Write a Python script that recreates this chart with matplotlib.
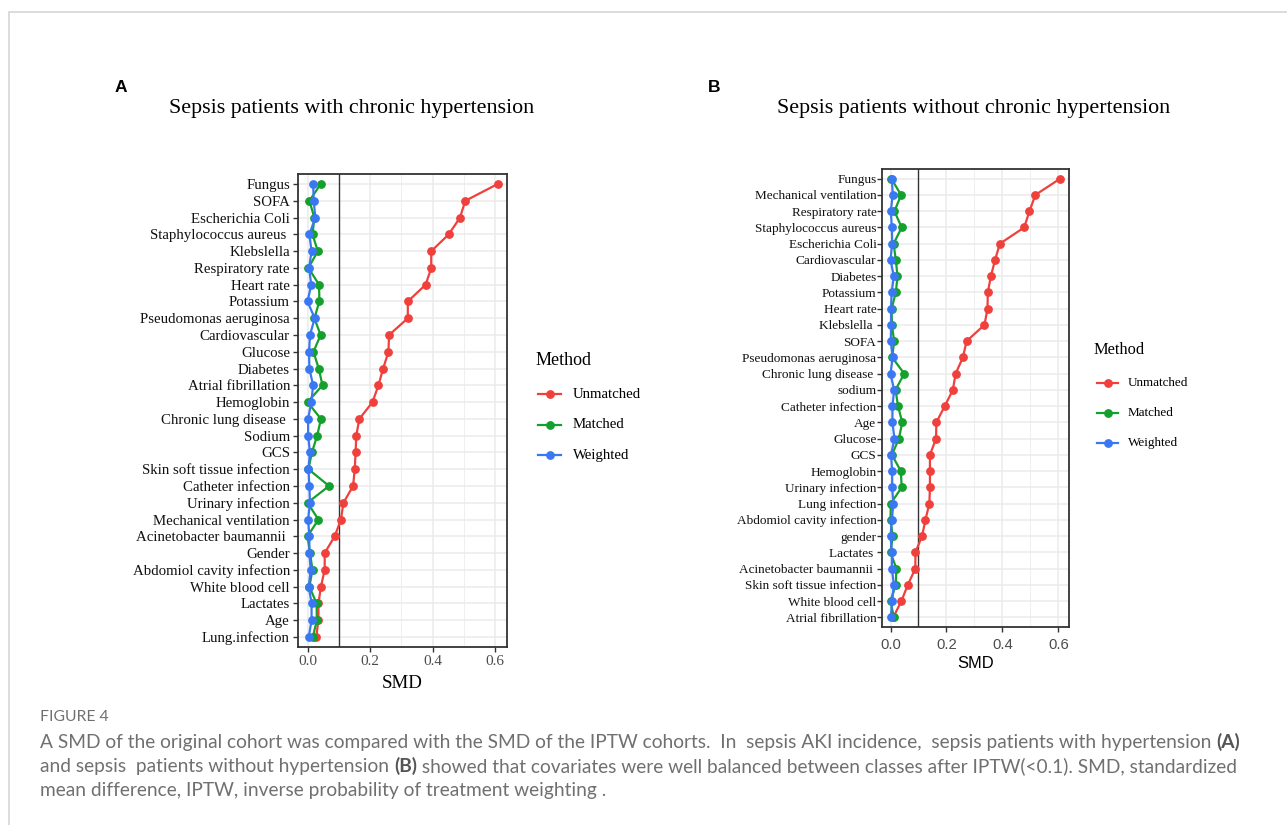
import matplotlib
matplotlib.use("Agg")
import matplotlib.pyplot as plt
from matplotlib.lines import Line2D
from matplotlib.patches import Rectangle
import numpy as np

W, H, DPI = 1287, 825, 100

# ---------------- data: panel A ----------------
covariates_a = ["Fungus", "SOFA", "Escherichia Coli", "Staphylococcus aureus ", "Klebslella",
                "Respiratory rate", "Heart rate", "Potassium", "Pseudomonas aeruginosa",
                "Cardiovascular", "Glucose", "Diabetes", "Atrial fibrillation", "Hemoglobin",
                "Chronic lung disease ", "Sodium", "GCS", "Skin soft tissue infection",
                "Catheter infection", "Urinary infection", "Mechanical ventilation",
                "Acinetobacter baumannii ", "Gender", "Abdomiol cavity infection",
                "White blood cell", "Lactates", "Age", "Lung.infection"]
unmatched_a = [0.608, 0.505, 0.488, 0.452, 0.396, 0.396, 0.378, 0.321, 0.321, 0.261, 0.259,
               0.242, 0.227, 0.208, 0.166, 0.156, 0.154, 0.151, 0.146, 0.115, 0.107, 0.087,
               0.055, 0.055, 0.043, 0.035, 0.035, 0.028]
matched_a = [0.042, 0.006, 0.022, 0.016, 0.033, 0.003, 0.037, 0.038, 0.022, 0.042, 0.019,
             0.036, 0.048, 0.000, 0.043, 0.031, 0.014, 0.003, 0.069, 0.000, 0.035, 0.000,
             0.008, 0.016, 0.006, 0.029, 0.030, 0.017]
weighted_a = [0.018, 0.020, 0.025, 0.006, 0.013, 0.005, 0.012, 0.000, 0.023, 0.008, 0.005,
              0.006, 0.018, 0.012, 0.002, 0.002, 0.008, 0.003, 0.006, 0.008, 0.002, 0.006,
              0.006, 0.010, 0.004, 0.013, 0.013, 0.004]

# ---------------- data: panel B ----------------
covariates_b = ["Fungus", "Mechanical ventilation", "Respiratory rate", "Staphylococcus aureus",
                "Escherichia Coli", "Cardiovascular", "Diabetes", "Potassium", "Heart rate",
                "Klebslella ", "SOFA", "Pseudomonas aeruginosa", "Chronic lung disease ",
                "sodium", "Catheter infection", "Age", "Glucose", "GCS", "Hemoglobin",
                "Urinary infection", "Lung infection", "Abdomiol cavity infection", "gender",
                "Lactates ", "Acinetobacter baumannii ", "Skin soft tissue infection",
                "White blood cell", "Atrial fibrillation"]
unmatched_b = [0.606, 0.518, 0.497, 0.478, 0.391, 0.374, 0.359, 0.348, 0.347, 0.336, 0.272,
               0.259, 0.233, 0.223, 0.194, 0.164, 0.163, 0.141, 0.141, 0.141, 0.139, 0.125,
               0.113, 0.089, 0.089, 0.062, 0.039, 0.010]
matched_b = [0.003, 0.038, 0.014, 0.040, 0.011, 0.019, 0.025, 0.019, 0.004, 0.005, 0.013,
             0.006, 0.049, 0.018, 0.027, 0.042, 0.030, 0.005, 0.037, 0.040, 0.001, 0.000,
             0.008, 0.000, 0.021, 0.019, 0.000, 0.012]
weighted_b = [0.005, 0.008, 0.001, 0.005, 0.006, 0.000, 0.012, 0.004, 0.002, 0.002, 0.001,
              0.008, 0.000, 0.013, 0.007, 0.007, 0.014, 0.002, 0.006, 0.006, 0.010, 0.005,
              0.000, 0.005, 0.005, 0.012, 0.006, 0.001]

methods = ["Unmatched", "Matched", "Weighted"]
colors = ["#F0403C", "#14A02C", "#3A78F2"]
xticks = [0.0, 0.2, 0.4, 0.6]
xtick_labels = ["0.0", "0.2", "0.4", "0.6"]
minor_xticks = [0.1, 0.3, 0.5]
threshold = 0.1

SERIF = "Liberation Serif"
SANS = "Liberation Sans"

fig = plt.figure(figsize=(W / DPI, H / DPI), dpi=DPI)
fig.patch.set_facecolor("white")
renderer = fig.canvas.get_renderer()


def fx(x):
    return x / W


def fy(y):
    return 1 - y / H


def text_width(s, family, size, weight="normal"):
    t = fig.text(0, 0, s, family=family, fontsize=size, fontweight=weight)
    w = t.get_window_extent(renderer).width
    t.remove()
    return w


def fit_size(s, family, target_px, weight="normal"):
    return 10.0 * target_px / text_width(s, family, 10.0, weight)


def fig_text(x, y, s, family, target_px=None, size=None, **kw):
    if size is None:
        size = fit_size(s, family, target_px, kw.get("fontweight", "normal"))
    return fig.text(fx(x), fy(y), s, family=family, fontsize=size, **kw)


# outer light frame
fig.add_artist(Rectangle((fx(9), fy(1000)), fx(1400), fy(12) - fy(1000),
                         transform=fig.transFigure, fill=False, ec="#D6D6D6", lw=1.2))


def panel(l, t, r, b, labels, series, ylab_family, ylab_width_px, ytick_pad,
          xt_family, xt_size, xt_pad, xl_family, xl_size, xl_y):
    ax = fig.add_axes([fx(l), fy(b), fx(r - l), (b - t) / H])
    n = len(labels)
    y = np.arange(n)
    ax.set_xlim(-0.0304, 0.6384)
    ax.set_ylim(n - 1 + 0.6, -0.6)
    ax.set_xticks(xticks)
    ax.set_xticklabels(xtick_labels)
    ax.set_xticks(minor_xticks, minor=True)
    ax.set_yticks(y)
    ysize = fit_size("Pseudomonas aeruginosa", ylab_family, ylab_width_px)
    ax.set_yticklabels(labels, family=ylab_family, fontsize=ysize, color="#111111")
    for lab in ax.get_xticklabels():
        lab.set_family(xt_family)
        lab.set_fontsize(xt_size)
        lab.set_color("#4D4D4D")
    ax.grid(True, which="major", color="#EBEBEB", lw=1.1)
    ax.grid(True, which="minor", axis="x", color="#EFEFEF", lw=0.7)
    ax.set_axisbelow(True)
    ax.tick_params(which="minor", length=0)
    ax.tick_params(axis="y", which="major", length=3.6, width=1.0, color="#333333", pad=ytick_pad)
    ax.tick_params(axis="x", which="major", length=3.6, width=1.0, color="#333333", pad=xt_pad)
    for sp in ax.spines.values():
        sp.set_color("#333333")
        sp.set_linewidth(1.3)
    ax.axvline(threshold, color="#333333", lw=1.0, zorder=1.5)
    for vals, c, m in zip(series, colors, methods):
        ax.plot(vals, y, "-o", color=c, lw=1.6, ms=5.3, zorder=3, label=m)
    ax.set_xlabel("SMD", family=xl_family, fontsize=xl_size, color="black")
    ax.xaxis.set_label_coords(0.5, 1 - (xl_y - t) / (b - t))
    ax.xaxis.label.set_va("center")
    return ax


axA = panel(298, 174, 507, 647, covariates_a, [unmatched_a, matched_a, weighted_a],
            SERIF, 150, 2.2, SERIF, 11.0, 2.4, SERIF, 13.6, 684)
axB = panel(882, 169, 1069, 627, covariates_b, [unmatched_b, matched_b, weighted_b],
            SERIF, 134, 0.4, SANS, 10.7, 4.0, SANS, 11.9, 664)

# titles and panel letters
fig_text(352, 109, "Sepsis patients with chronic hypertension", SERIF, 365, ha="center", va="center")
fig_text(974, 109, "Sepsis patients without chronic hypertension", SERIF, 394, ha="center", va="center")
fig_text(121, 87, "A", SANS, size=12.5, fontweight="bold", ha="center", va="center")
fig_text(714, 88, "B", SANS, size=12.5, fontweight="bold", ha="center", va="center")


# legends
def legend(title_x, title_y, title_w, line_x0, line_x1, text_x, ys, text_w):
    fig_text(title_x, title_y, "Method", SERIF, title_w, ha="left", va="center")
    tsize = fit_size("Unmatched", SERIF, text_w)
    for m, c, yy in zip(methods, colors, ys):
        fig.add_artist(Line2D([fx(line_x0), fx(line_x1)], [fy(yy), fy(yy)], transform=fig.transFigure,
                              color=c, lw=1.6))
        fig.add_artist(Line2D([fx((line_x0 + line_x1) / 2)], [fy(yy)], transform=fig.transFigure,
                              color=c, marker="o", ms=5.3))
        fig_text(text_x, yy, m, SERIF, size=tsize, ha="left", va="center")


legend(536, 361, 56, 538, 561, 573, [394, 425, 455], 69)
legend(1093, 350, 51, 1097, 1118, 1128, [383, 413, 443], 61)

# caption
CAP = "Lato"
CAP_COLOR = "#707070"
line1 = [("A SMD of the original cohort was compared with the SMD of the IPTW cohorts.  In  sepsis AKI incidence,  sepsis patients with hypertension ", "normal"), ("(A)", "bold")]
line2 = [("and sepsis  patients without hypertension ", "normal"), ("(B)", "bold"),
         (" showed that covariates were well balanced between classes after IPTW(<0.1). SMD, standardized", "normal")]
line3 = [("mean difference, IPTW, inverse probability of treatment weighting .", "normal")]


def rich_width(pieces, size):
    return sum(text_width(s, CAP, size, w) for s, w in pieces)


cap_size = 10.0 * 1205 / rich_width(line1, 10.0)


def draw_rich(x, y_base, pieces, size):
    cx = x
    for s, w in pieces:
        t = fig.text(fx(cx), fy(y_base), s, family=CAP, fontsize=size, fontweight=w,
                     color=("#555555" if w == "bold" else CAP_COLOR), ha="left", va="baseline")
        cx += t.get_window_extent(renderer).width


fig_text(40, 717, "FIGURE 4", CAP, size=cap_size * 0.82, color=CAP_COLOR, ha="left", va="center")
draw_rich(40, 748, line1, cap_size)
draw_rich(40, 772, line2, cap_size)
draw_rich(40, 796, line3, cap_size)

fig.savefig("out.png", dpi=DPI, facecolor="white")
